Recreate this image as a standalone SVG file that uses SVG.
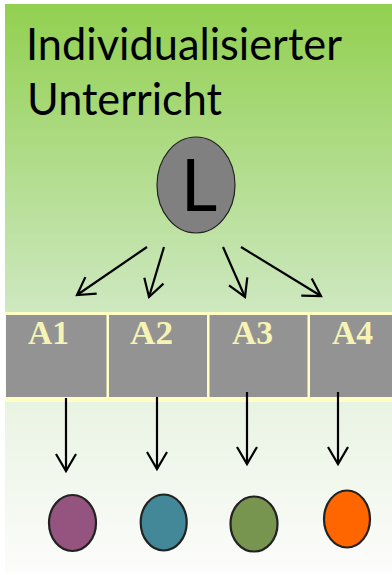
<svg xmlns="http://www.w3.org/2000/svg" width="392" height="575" viewBox="0 0 392 575">
  <defs>
    <linearGradient id="bg" x1="0" y1="0" x2="0" y2="1">
      <stop offset="0" stop-color="#92D050"/>
      <stop offset="0.5" stop-color="#C9E6B8"/>
      <stop offset="0.72" stop-color="#EAF4E4"/>
      <stop offset="1" stop-color="#FCFCFB"/>
    </linearGradient>
    <marker id="ah" viewBox="-20 -12 24 24" markerWidth="24" markerHeight="24" refX="0" refY="0" orient="auto" markerUnits="userSpaceOnUse">
      <path d="M-17,-10 L0,0 L-17,10" fill="none" stroke="#000" stroke-width="2.2" stroke-linejoin="miter"/>
    </marker>
  </defs>
  <style>
    .title { font-family: Lato, "Open Sans", sans-serif; font-size: 45px; fill: #000; }
    .cell { fill: #939393; }
    .lbl { font-family: "Liberation Serif", serif; font-weight: bold; font-size: 33px; fill: #F6F3B4; }
    .conn { fill: none; stroke: #000; stroke-width: 2.2; marker-end: url(#ah); }
    .dot { stroke: #222; stroke-width: 2.2; }
  </style>
  <rect x="0" y="0" width="392" height="575" fill="#FFFFFF"/>
  <rect x="5" y="4" width="387" height="568" fill="url(#bg)"/>

  <g id="title">
    <text class="title" x="26" y="60" textLength="316" lengthAdjust="spacingAndGlyphs">Individualisierter</text>
    <text class="title" x="27" y="115" textLength="195" lengthAdjust="spacingAndGlyphs">Unterricht</text>
  </g>

  <g id="node-L">
    <ellipse cx="196" cy="185" rx="39" ry="48" fill="#808080" stroke="#222" stroke-width="1.2"/>
    <text x="199" y="211" text-anchor="middle" font-family="Lato, 'Open Sans', sans-serif" font-size="71" fill="#000">L</text>
  </g>

  <g id="table">
    <rect x="5" y="312" width="387" height="90" fill="#FFFFC4"/>
  </g>
  <g id="node-A1">
    <rect class="cell" x="6" y="315" width="100.5" height="82"/>
    <text class="lbl" x="28" y="344" textLength="41" lengthAdjust="spacingAndGlyphs">A1</text>
  </g>
  <g id="node-A2">
    <rect class="cell" x="109" y="315" width="98" height="82"/>
    <text class="lbl" x="130" y="344" textLength="43" lengthAdjust="spacingAndGlyphs">A2</text>
  </g>
  <g id="node-A3">
    <rect class="cell" x="209.5" y="315" width="98" height="82"/>
    <text class="lbl" x="232" y="344" textLength="41" lengthAdjust="spacingAndGlyphs">A3</text>
  </g>
  <g id="node-A4">
    <rect class="cell" x="310" y="315" width="82" height="82"/>
    <text class="lbl" x="332" y="344" textLength="41" lengthAdjust="spacingAndGlyphs">A4</text>
  </g>

  <g id="connectors">
    <line class="conn" x1="147" y1="247" x2="77" y2="295"/>
    <line class="conn" x1="164" y1="247" x2="149" y2="297"/>
    <line class="conn" x1="223" y1="247" x2="245" y2="297"/>
    <line class="conn" x1="241" y1="247" x2="321" y2="296"/>
    <line class="conn" x1="66" y1="398" x2="66" y2="471"/>
    <line class="conn" x1="157" y1="397" x2="157" y2="469"/>
    <line class="conn" x1="247" y1="392" x2="247" y2="464"/>
    <line class="conn" x1="338" y1="392" x2="338" y2="464"/>
  </g>

  <g id="node-p1"><ellipse class="dot" cx="72.5" cy="523" rx="23.5" ry="28" fill="#955480"/></g>
  <g id="node-p2"><ellipse class="dot" cx="163.7" cy="522.5" rx="23" ry="28" fill="#438898"/></g>
  <g id="node-p3"><ellipse class="dot" cx="254" cy="524" rx="23.5" ry="27.5" fill="#77954F"/></g>
  <g id="node-p4"><ellipse class="dot" cx="347" cy="519" rx="23" ry="28.5" fill="#FF6600"/></g>
</svg>
